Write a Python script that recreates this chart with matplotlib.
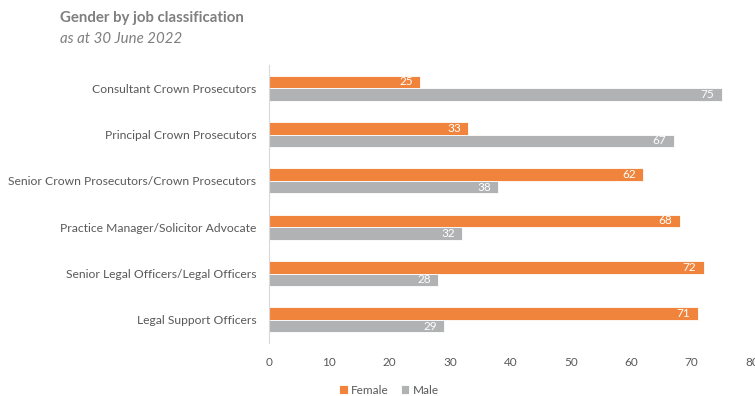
import matplotlib
matplotlib.use("Agg")
import matplotlib.pyplot as plt
import numpy as np

categories = [
    "Consultant Crown Prosecutors",
    "Principal Crown Prosecutors",
    "Senior Crown Prosecutors/Crown Prosecutors",
    "Practice Manager/Solicitor Advocate",
    "Senior Legal Officers/Legal Officers",
    "Legal Support Officers",
]
female = [25, 33, 62, 68, 72, 71]
male = [75, 67, 38, 32, 28, 29]
xticks = [0, 10, 20, 30, 40, 50, 60, 70, 80]

plt.rcParams["font.family"] = ["Lato", "DejaVu Sans"]

ORANGE = "#F0843C"
GREY = "#B1B2B4"
TEXT = "#595959"

fig = plt.figure(figsize=(7.55, 3.96), dpi=100)
ax = fig.add_axes([269 / 755, 1 - 343 / 396, (752 - 269) / 755, (343 - 65) / 396])

y = np.arange(len(categories))
h = 0.27
bf = ax.barh(y - h / 2, female, height=h, color=ORANGE, edgecolor="white", linewidth=0.6, label="Female")
bm = ax.barh(y + h / 2, male, height=h, color=GREY, edgecolor="white", linewidth=0.6, label="Male")

for bars, vals in ((bf, female), (bm, male)):
    for b, v in zip(bars, vals):
        ax.text(v - 1.2, b.get_y() + b.get_height() / 2, str(v), ha="right", va="center",
                color="white", fontsize=8.5)

ax.set_ylim(len(categories) - 0.5, -0.5)
ax.set_xlim(0, 80)
ax.set_xticks(xticks)
ax.set_yticks(y)
ax.set_yticklabels(categories)
ax.tick_params(axis="both", length=0, colors=TEXT, labelsize=8.5)
ax.tick_params(axis="y", labelsize=8.7, pad=9)
ax.tick_params(axis="x", pad=10)
for s in ("top", "right", "bottom"):
    ax.spines[s].set_visible(False)
ax.spines["left"].set_color("#D9D9D9")
ax.spines["left"].set_linewidth(0.8)

fig.text(60 / 755, 1 - 18 / 396, "Gender by job classification", fontsize=10.8, fontweight="bold",
         color="#7F7F7F", va="center")
fig.text(60 / 755, 1 - 39 / 396, "as at 30 June 2022", fontsize=10.8, style="italic",
         color="#7F7F7F", va="center")

fig.legend(handles=[bf, bm], labels=["Female", "Male"], loc="center",
           bbox_to_anchor=(389 / 755, 1 - 390 / 396), ncol=2, frameon=False,
           fontsize=8.5, handlelength=0.7, handleheight=0.7, handletextpad=0.3,
           columnspacing=1.0, labelcolor=TEXT)

fig.savefig("out.png", dpi=100)
